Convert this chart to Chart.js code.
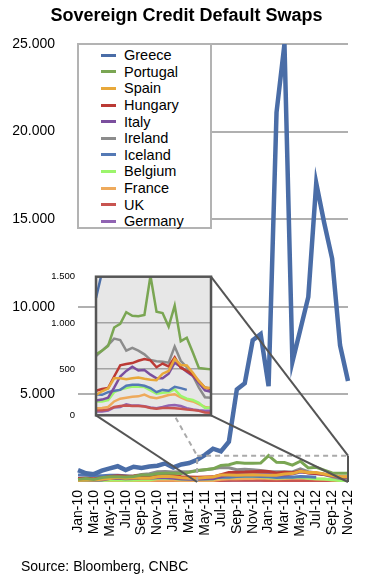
<!DOCTYPE html>
<html lang="en">
<head>
    <meta charset="UTF-8">
    <title>Sovereign Credit Default Swaps</title>
    <script src="https://cdn.jsdelivr.net/npm/chart.js"></script>
    <style>
        body {
            margin: 0;
            background: #fff;
            font-family: "Liberation Sans", Arial, Helvetica, sans-serif;
        }
        #wrap {
            position: relative;
            width: 365px;
            height: 584px;
        }
        #main {
            position: absolute;
            left: 0;
            top: 0;
        }
        #inset {
            position: absolute;
            left: 40px;
            top: 250px;
        }
        .title {
            position: absolute;
            left: 8px;
            width: 357px;
            top: 5px;
            text-align: center;
            font-size: 18px;
            font-weight: bold;
            color: #000;
        }
        .source {
            position: absolute;
            left: 21px;
            top: 558px;
            font-size: 14px;
            color: #000;
        }
        .legend {
            position: absolute;
            left: 77px;
            top: 43px;
            width: 135px;
            height: 186px;
            box-sizing: border-box;
            border: 2px solid #b3b3b3;
            background: #fff;
            padding-top: 2px;
        }
        .legend div {
            display: flex;
            align-items: center;
            height: 16.6px;
            font-size: 14.5px;
            color: #000;
        }
        .legend span.swatch {
            display: inline-block;
            width: 15px;
            height: 3px;
            margin-left: 22px;
            margin-right: 8px;
        }
    </style>
</head>
<body>
<div id="wrap">
    <canvas id="main" width="365" height="584"></canvas>
    <canvas id="inset" width="175" height="192"></canvas>
    <div class="title">Sovereign Credit Default Swaps</div>
    <div class="legend" id="legend"></div>
    <div class="source">Source: Bloomberg, CNBC</div>
</div>

<script>
    // monthly CDS spreads (bp), Jan-10 .. Nov-12
    const months = ['Jan-10', 'Feb-10', 'Mar-10', 'Apr-10', 'May-10', 'Jun-10', 'Jul-10', 'Aug-10', 'Sep-10', 'Oct-10', 'Nov-10', 'Dec-10',
        'Jan-11', 'Feb-11', 'Mar-11', 'Apr-11', 'May-11', 'Jun-11', 'Jul-11', 'Aug-11', 'Sep-11', 'Oct-11', 'Nov-11', 'Dec-11',
        'Jan-12', 'Feb-12', 'Mar-12', 'Apr-12', 'May-12', 'Jun-12', 'Jul-12', 'Aug-12', 'Sep-12', 'Oct-12', 'Nov-12'];

    const greece   = [680, 500, 450, 650, 780, 900, 680, 870, 800, 880, 930, 1060, 830, 1000, 1080,
                      1270, 1550, 1900, 1750, 2300, 5280, 5630, 8090, 8440, 5470, 21100, 25000, 6860, 8700, 10560, 17060, 14800, 12750, 7800, 5770];
    const portugal = [150, 200, 150, 250, 300, 300, 280, 320, 400, 400, 480, 500, 500, 480, 550,
                      660, 700, 750, 950, 990, 1115, 1077, 1072, 1086, 1510, 1120, 1107, 961, 1188, 802, 840, 680, 512, 505, 497];
    const spain    = [100, 110, 110, 150, 200, 250, 220, 240, 220, 210, 300, 330, 300, 240, 220,
                      220, 260, 290, 400, 400, 390, 400, 410, 395, 385, 380, 450, 480, 610, 545, 540, 460, 370, 300, 295];
    const hungary  = [200, 210, 190, 230, 320, 360, 330, 340, 380, 360, 390, 400, 380, 300, 280,
                      265, 285, 295, 420, 540, 555, 565, 590, 610, 595, 520, 560, 530, 628, 515, 480, 440, 370, 300, 285];
    const italy    = [110, 120, 100, 120, 200, 220, 180, 200, 220, 210, 240, 240, 220, 170, 160,
                      160, 170, 190, 300, 420, 480, 525, 485, 490, 440, 400, 400, 450, 570, 525, 470, 425, 350, 270, 255];
    const ireland  = [150, 150, 140, 150, 240, 270, 280, 340, 430, 470, 580, 600, 570, 580, 580,
                      640, 700, 760, 830, 815, 700, 730, 700, 660, 600, 585, 580, 570, 744, 590, 520, 430, 300, 195, 190];
    const iceland  = [400, 380, 350, 350, 380, 380, 350, 310, 300, 290, 300, 280, 270, 250, 230,
                      225, 222, 250, 265, 275, 320, 330, 330, 320, 295, 250, 275, 265, 309, 294, 275, null, null, null, null];
    const belgium  = [60, 70, 60, 80, 120, 130, 100, 110, 130, 130, 200, 220, 200, 160, 150,
                      150, 150, 165, 250, 280, 295, 310, 310, 305, 270, 235, 245, 250, 280, 210, 180, 165, 135, 80, 85];
    const france   = [70, 70, 60, 60, 80, 90, 75, 80, 80, 85, 100, 110, 95, 85, 80,
                      75, 80, 90, 150, 180, 190, 200, 205, 225, 195, 185, 200, 220, 228, 195, 165, 150, 120, 90, 78];
    const uk       = [80, 80, 80, 70, 90, 80, 70, 65, 70, 60, 60, 60, 60, 55, 55,
                      55, 55, 62, 90, 100, 105, 100, 100, 95, 80, 72, 80, 78, 75, 70, 62, 58, 48, 30, 28];
    const germany  = [40, 35, 30, 35, 50, 45, 40, 35, 40, 40, 50, 55, 45, 40, 40,
                      40, 40, 52, 85, 90, 120, 105, 105, 97, 85, 77, 90, 105, 112, 100, 77, 62, 54, 48, 48];

    const countries = ['Greece', 'Portugal', 'Spain', 'Hungary', 'Italy', 'Ireland', 'Iceland', 'Belgium', 'France', 'UK', 'Germany'];
    const seriesData = [greece, portugal, spain, hungary, italy, ireland, iceland, belgium, france, uk, germany];
    const colors = ['#4a6da7', '#7aa653', '#e8a83a', '#bb3a35', '#7b4f9e', '#8c8c8c', '#5479b5', '#9cf56c', '#eeaa5c', '#c85450', '#9063b2'];

    // zoomed window: Apr-11 .. Nov-12, 0 .. 1.500
    const insetStart = 15;
    const insetMax = 1500;

    const font = '"Liberation Sans", Arial, Helvetica, sans-serif';

    function fmt(v) {
        return String(v).replace(/\B(?=(\d{3})+(?!\d))/g, '.');
    }

    const insetBg = {
        id: 'insetBg',
        beforeDraw(chart) {
            const { ctx, chartArea: a } = chart;
            ctx.save();
            ctx.fillStyle = '#e7e7e7';
            ctx.fillRect(a.left, a.top, a.right - a.left, a.bottom - a.top);
            ctx.restore();
        },
        afterDraw(chart) {
            const { ctx, chartArea: a } = chart;
            ctx.save();
            ctx.strokeStyle = '#555';
            ctx.lineWidth = 2.5;
            ctx.strokeRect(a.left, a.top, a.right - a.left, a.bottom - a.top);
            ctx.restore();
        }
    };

    const insetChart = new Chart(document.getElementById('inset'), {
        type: 'line',
        data: {
            labels: months.slice(insetStart),
            datasets: countries.map((name, i) => ({
                label: name,
                data: seriesData[i].slice(insetStart),
                borderColor: colors[i],
                borderWidth: 2.5,
                pointRadius: 0,
                tension: 0
            }))
        },
        options: {
            animation: false,
            responsive: false,
            layout: { padding: { top: 13, right: 4, bottom: 7, left: 0 } },
            plugins: { legend: { display: false }, tooltip: { enabled: false } },
            scales: {
                x: { display: false },
                y: {
                    min: 0,
                    max: insetMax,
                    border: { display: false },
                    grid: {
                        drawTicks: false,
                        lineWidth: 1.5,
                        color: ctx => (ctx.tick.value === 0 || ctx.tick.value === insetMax) ? 'rgba(0,0,0,0)' : '#a3a3a3'
                    },
                    ticks: { stepSize: 500, padding: 21, color: '#000', font: { family: font, size: 9.5 }, callback: v => fmt(v) },
                    afterFit(s) { s.width = 56; }
                }
            }
        },
        plugins: [insetBg]
    });

    // dashed window on the main chart + the lines running to the inset
    const zoomBox = {
        id: 'zoomBox',
        afterDatasetsDraw(chart) {
            const { ctx, scales: { x, y } } = chart;
            const x0 = x.getPixelForValue(insetStart);
            const x1 = x.getPixelForValue(months.length - 1);
            const yT = y.getPixelForValue(insetMax);
            const yB = y.getPixelForValue(0);
            const ca = insetChart.chartArea, cv = insetChart.canvas;
            const l = cv.offsetLeft + ca.left, r = cv.offsetLeft + ca.right;
            const t = cv.offsetTop + ca.top, b = cv.offsetTop + ca.bottom;
            const seg = (ax, ay, bx, by) => { ctx.beginPath(); ctx.moveTo(ax, ay); ctx.lineTo(bx, by); ctx.stroke(); };
            ctx.save();
            ctx.lineWidth = 2;
            ctx.strokeStyle = '#aaa';
            ctx.setLineDash([5, 4]);
            seg(l, t, x0, yT);
            seg(x0, yB, x0, yT);
            seg(x0, yT, x1, yT);
            ctx.setLineDash([]);
            ctx.strokeStyle = '#555';
            seg(x1, yT, x1, yB);
            seg(r, t, x1, yT);
            seg(r, b, x1, yB);
            seg(l, b, x0, yB);
            ctx.restore();
        }
    };

    const mainChart = new Chart(document.getElementById('main'), {
        type: 'line',
        data: {
            labels: months,
            datasets: countries.map((name, i) => ({
                label: name,
                data: seriesData[i],
                borderColor: colors[i],
                borderWidth: i === 0 ? 4.5 : 3,
                pointRadius: 0,
                tension: 0
            }))
        },
        options: {
            animation: false,
            responsive: false,
            layout: { padding: { left: 0, right: 17, top: 44, bottom: 29 } },
            plugins: {
                legend: { display: false },
                tooltip: { enabled: false }
            },
            scales: {
                x: {
                    grid: { display: false },
                    border: { display: false },
                    ticks: {
                        autoSkip: false,
                        minRotation: 90,
                        maxRotation: 90,
                        padding: 0,
                        color: '#000',
                        font: { family: font, size: 14 },
                        callback(v, i) { return i % 2 === 0 ? this.getLabelForValue(v) : null; }
                    },
                    afterFit(s) { s.height = 73; }
                },
                y: {
                    min: 0,
                    max: 25000,
                    border: { display: false },
                    grid: { color: '#b0b0b0', lineWidth: 2, drawTicks: false },
                    ticks: {
                        stepSize: 5000,
                        padding: 23,
                        color: '#000',
                        font: { family: font, size: 14 },
                        callback: v => v === 0 ? null : fmt(v)
                    },
                    afterFit(s) { s.width = 78; }
                }
            }
        },
        plugins: [zoomBox]
    });

    // legend box
    const legendEl = document.getElementById('legend');
    mainChart.data.datasets.forEach(ds => {
        const row = document.createElement('div');
        const sw = document.createElement('span');
        sw.className = 'swatch';
        sw.style.background = ds.borderColor;
        row.appendChild(sw);
        row.appendChild(document.createTextNode(ds.label));
        legendEl.appendChild(row);
    });
</script>
</body>
</html>
